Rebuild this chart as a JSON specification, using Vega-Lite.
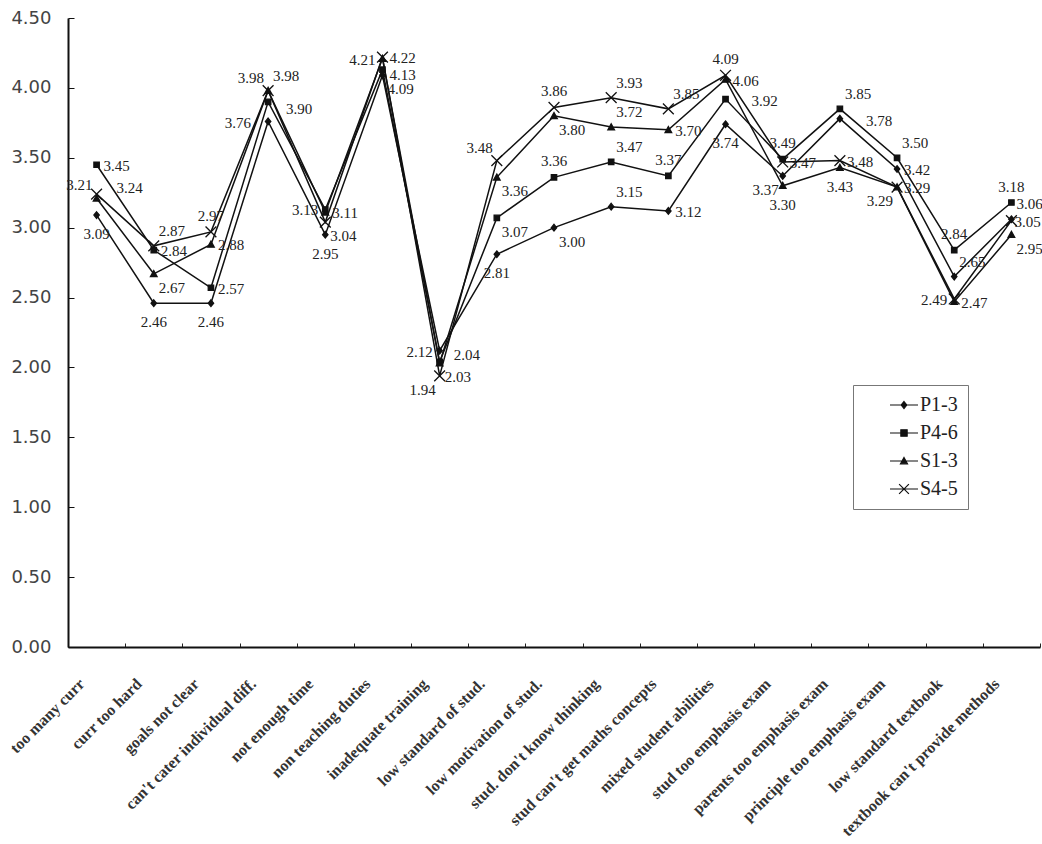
{
  "$schema": "https://vega.github.io/schema/vega-lite/v6.json",
  "width": 972,
  "height": 629,
  "autosize": {"type": "none"},
  "padding": {"left": 68, "top": 18, "right": 2, "bottom": 197},
  "background": "white",
  "config": {"view": {"stroke": null}},
  "datasets": {
    "rows": [
      {"c": "too many curr", "s": "P1-3", "v": 3.09},
      {"c": "curr too hard", "s": "P1-3", "v": 2.46},
      {"c": "goals not clear", "s": "P1-3", "v": 2.46},
      {"c": "can't cater individual diff.", "s": "P1-3", "v": 3.76},
      {"c": "not enough time", "s": "P1-3", "v": 2.95},
      {"c": "non teaching duties", "s": "P1-3", "v": 4.09},
      {"c": "inadequate training", "s": "P1-3", "v": 2.12},
      {"c": "low standard of stud.", "s": "P1-3", "v": 2.81},
      {"c": "low motivation of stud.", "s": "P1-3", "v": 3.00},
      {"c": "stud. don't know thinking", "s": "P1-3", "v": 3.15},
      {"c": "stud can't get maths concepts", "s": "P1-3", "v": 3.12},
      {"c": "mixed student abilities", "s": "P1-3", "v": 3.74},
      {"c": "stud too emphasis exam", "s": "P1-3", "v": 3.37},
      {"c": "parents too emphasis exam", "s": "P1-3", "v": 3.78},
      {"c": "principle too emphasis exam", "s": "P1-3", "v": 3.42},
      {"c": "low standard textbook", "s": "P1-3", "v": 2.65},
      {"c": "textbook can't provide methods", "s": "P1-3", "v": 3.06},
      {"c": "too many curr", "s": "P4-6", "v": 3.45},
      {"c": "curr too hard", "s": "P4-6", "v": 2.84},
      {"c": "goals not clear", "s": "P4-6", "v": 2.57},
      {"c": "can't cater individual diff.", "s": "P4-6", "v": 3.90},
      {"c": "not enough time", "s": "P4-6", "v": 3.13},
      {"c": "non teaching duties", "s": "P4-6", "v": 4.13},
      {"c": "inadequate training", "s": "P4-6", "v": 2.04},
      {"c": "low standard of stud.", "s": "P4-6", "v": 3.07},
      {"c": "low motivation of stud.", "s": "P4-6", "v": 3.36},
      {"c": "stud. don't know thinking", "s": "P4-6", "v": 3.47},
      {"c": "stud can't get maths concepts", "s": "P4-6", "v": 3.37},
      {"c": "mixed student abilities", "s": "P4-6", "v": 3.92},
      {"c": "stud too emphasis exam", "s": "P4-6", "v": 3.49},
      {"c": "parents too emphasis exam", "s": "P4-6", "v": 3.85},
      {"c": "principle too emphasis exam", "s": "P4-6", "v": 3.50},
      {"c": "low standard textbook", "s": "P4-6", "v": 2.84},
      {"c": "textbook can't provide methods", "s": "P4-6", "v": 3.18},
      {"c": "too many curr", "s": "S1-3", "v": 3.21},
      {"c": "curr too hard", "s": "S1-3", "v": 2.67},
      {"c": "goals not clear", "s": "S1-3", "v": 2.88},
      {"c": "can't cater individual diff.", "s": "S1-3", "v": 3.98},
      {"c": "not enough time", "s": "S1-3", "v": 3.11},
      {"c": "non teaching duties", "s": "S1-3", "v": 4.21},
      {"c": "inadequate training", "s": "S1-3", "v": 2.03},
      {"c": "low standard of stud.", "s": "S1-3", "v": 3.36},
      {"c": "low motivation of stud.", "s": "S1-3", "v": 3.80},
      {"c": "stud. don't know thinking", "s": "S1-3", "v": 3.72},
      {"c": "stud can't get maths concepts", "s": "S1-3", "v": 3.70},
      {"c": "mixed student abilities", "s": "S1-3", "v": 4.06},
      {"c": "stud too emphasis exam", "s": "S1-3", "v": 3.30},
      {"c": "parents too emphasis exam", "s": "S1-3", "v": 3.43},
      {"c": "principle too emphasis exam", "s": "S1-3", "v": 3.29},
      {"c": "low standard textbook", "s": "S1-3", "v": 2.47},
      {"c": "textbook can't provide methods", "s": "S1-3", "v": 2.95},
      {"c": "too many curr", "s": "S4-5", "v": 3.24},
      {"c": "curr too hard", "s": "S4-5", "v": 2.87},
      {"c": "goals not clear", "s": "S4-5", "v": 2.97},
      {"c": "can't cater individual diff.", "s": "S4-5", "v": 3.98},
      {"c": "not enough time", "s": "S4-5", "v": 3.04},
      {"c": "non teaching duties", "s": "S4-5", "v": 4.22},
      {"c": "inadequate training", "s": "S4-5", "v": 1.94},
      {"c": "low standard of stud.", "s": "S4-5", "v": 3.48},
      {"c": "low motivation of stud.", "s": "S4-5", "v": 3.86},
      {"c": "stud. don't know thinking", "s": "S4-5", "v": 3.93},
      {"c": "stud can't get maths concepts", "s": "S4-5", "v": 3.85},
      {"c": "mixed student abilities", "s": "S4-5", "v": 4.09},
      {"c": "stud too emphasis exam", "s": "S4-5", "v": 3.47},
      {"c": "parents too emphasis exam", "s": "S4-5", "v": 3.48},
      {"c": "principle too emphasis exam", "s": "S4-5", "v": 3.29},
      {"c": "low standard textbook", "s": "S4-5", "v": 2.49},
      {"c": "textbook can't provide methods", "s": "S4-5", "v": 3.05}
    ]
  },
  "data": {"name": "rows"},
  "encoding": {
    "x": {
      "field": "c",
      "type": "nominal",
      "title": null,
      "sort": ["too many curr", "curr too hard", "goals not clear", "can't cater individual diff.", "not enough time", "non teaching duties", "inadequate training", "low standard of stud.", "low motivation of stud.", "stud. don't know thinking", "stud can't get maths concepts", "mixed student abilities", "stud too emphasis exam", "parents too emphasis exam", "principle too emphasis exam", "low standard textbook", "textbook can't provide methods"],
      "scale": {"type": "band", "paddingInner": 0, "paddingOuter": 0},
      "axis": {
        "labelAngle": -45,
        "labelAlign": "right",
        "labelBaseline": "middle",
        "labelFont": "Liberation Serif",
        "labelFontSize": 16,
        "labelFontWeight": "bold",
        "labelColor": "#333",
        "labelPadding": 38,
        "labelOffset": -15,
        "labelLimit": 400,
        "tickBand": "extent",
        "tickSize": -4,
        "tickColor": "#222",
        "domainColor": "#111",
        "domainWidth": 2,
        "grid": false
      }
    },
    "y": {
      "field": "v",
      "type": "quantitative",
      "title": null,
      "scale": {"domain": [0, 4.5]},
      "axis": {
        "values": [0, 0.5, 1, 1.5, 2, 2.5, 3, 3.5, 4, 4.5],
        "format": ".2f",
        "labelFont": "DejaVu Sans",
        "labelFontSize": 18,
        "labelColor": "#444",
        "labelPadding": 23,
        "tickSize": -6,
        "tickColor": "#111",
        "domainColor": "#111",
        "domainWidth": 2,
        "grid": false
      }
    }
  },
  "resolve": {"scale": {"shape": "independent"}},
  "layer": [
    {
      "mark": {"type": "line", "color": "#111", "strokeWidth": 1.5},
      "encoding": {"detail": {"field": "s", "type": "nominal"}}
    },
    {
      "mark": {"type": "point", "filled": true, "color": "#111", "stroke": "#111", "strokeWidth": 1.3, "size": 36, "opacity": 1},
      "encoding": {
        "shape": {
          "field": "s",
          "type": "nominal",
          "scale": {
            "domain": ["P1-3", "P4-6", "S1-3", "S4-5"],
            "range": ["M0,-1.1L0.9,0L0,1.1L-0.9,0Z", "M-0.9,-0.9H0.9V0.9H-0.9Z", "M0,-1.1L1.1,0.9H-1.1Z", "M-1.8,-1.8L1.8,1.8M-1.8,1.8L1.8,-1.8"]
          },
          "legend": null
        }
      }
    },
    {
      "mark": {"type": "point", "filled": false, "fill": "#111", "color": "#111", "strokeWidth": 1.2, "size": 0, "opacity": 1},
      "encoding": {
        "shape": {
          "field": "s",
          "type": "nominal",
          "scale": {
            "domain": ["P1-3", "P4-6", "S1-3", "S4-5"],
            "range": ["M-4,0L4,0M0,-1L0.8,0L0,1L-0.8,0Z", "M-4,0L4,0M-0.9,-0.9H0.9V0.9H-0.9Z", "M-4,0L4,0M0,-1L1,0.8H-1Z", "M-4,0L4,0M-1.4,-1.4L1.4,1.4M-1.4,1.4L1.4,-1.4"]
          },
          "legend": {
            "title": null,
            "orient": "none",
            "legendX": 785,
            "legendY": 367,
            "padding": 10,
            "rowPadding": 8,
            "strokeColor": "#777",
            "fillColor": "white",
            "labelFont": "Liberation Serif",
            "labelFontSize": 20,
            "labelColor": "#222",
            "labelOffset": 6,
            "symbolSize": 49,
            "symbolOffset": 31,
            "symbolStrokeWidth": 1.2,
            "symbolOpacity": 1
          }
        }
      }
    },
    {
      "transform": [{"filter": "indexof([\"P1-3|too many curr\", \"P1-3|curr too hard\", \"P1-3|goals not clear\", \"P1-3|not enough time\", \"P1-3|low standard of stud.\", \"P1-3|mixed student abilities\", \"S1-3|stud too emphasis exam\", \"S1-3|parents too emphasis exam\"], datum.s + '|' + datum.c) >= 0"}],
      "mark": {"type": "text", "font": "Liberation Serif", "fontSize": 15, "color": "#222", "dy": 19},
      "encoding": {"text": {"field": "v", "type": "quantitative", "format": ".2f"}}
    },
    {
      "transform": [{"filter": "indexof([\"S4-5|goals not clear\", \"S4-5|low motivation of stud.\", \"P4-6|low motivation of stud.\", \"P4-6|stud can't get maths concepts\", \"S4-5|mixed student abilities\", \"P4-6|stud too emphasis exam\", \"P4-6|low standard textbook\", \"P4-6|textbook can't provide methods\"], datum.s + '|' + datum.c) >= 0"}],
      "mark": {"type": "text", "font": "Liberation Serif", "fontSize": 15, "color": "#222", "dy": -16},
      "encoding": {"text": {"field": "v", "type": "quantitative", "format": ".2f"}}
    },
    {
      "transform": [{"filter": "indexof([\"P4-6|too many curr\", \"P4-6|curr too hard\", \"P4-6|goals not clear\", \"S1-3|goals not clear\", \"S1-3|not enough time\", \"S4-5|non teaching duties\", \"P1-3|stud can't get maths concepts\", \"S1-3|stud can't get maths concepts\", \"S1-3|mixed student abilities\", \"S4-5|stud too emphasis exam\", \"S4-5|parents too emphasis exam\", \"P1-3|principle too emphasis exam\", \"S1-3|principle too emphasis exam\", \"S1-3|low standard textbook\"], datum.s + '|' + datum.c) >= 0"}],
      "mark": {"type": "text", "font": "Liberation Serif", "fontSize": 15, "color": "#222", "align": "left", "dx": 7, "dy": 1},
      "encoding": {"text": {"field": "v", "type": "quantitative", "format": ".2f"}}
    },
    {
      "transform": [{"filter": "indexof([\"P4-6|non teaching duties\"], datum.s + '|' + datum.c) >= 0"}],
      "mark": {"type": "text", "font": "Liberation Serif", "fontSize": 15, "color": "#222", "align": "left", "dx": 7, "dy": 5},
      "encoding": {"text": {"field": "v", "type": "quantitative", "format": ".2f"}}
    },
    {
      "transform": [{"filter": "indexof([\"S4-5|too many curr\"], datum.s + '|' + datum.c) >= 0"}],
      "mark": {"type": "text", "font": "Liberation Serif", "fontSize": 15, "color": "#222", "align": "left", "dx": 20, "dy": -6},
      "encoding": {"text": {"field": "v", "type": "quantitative", "format": ".2f"}}
    },
    {
      "transform": [{"filter": "indexof([\"S4-5|textbook can't provide methods\"], datum.s + '|' + datum.c) >= 0"}],
      "mark": {"type": "text", "font": "Liberation Serif", "fontSize": 15, "color": "#222", "align": "left", "dx": 3, "dy": 1},
      "encoding": {"text": {"field": "v", "type": "quantitative", "format": ".2f"}}
    },
    {
      "transform": [{"filter": "indexof([\"P4-6|mixed student abilities\", \"P1-3|parents too emphasis exam\"], datum.s + '|' + datum.c) >= 0"}],
      "mark": {"type": "text", "font": "Liberation Serif", "fontSize": 15, "color": "#222", "align": "left", "dx": 26, "dy": 2},
      "encoding": {"text": {"field": "v", "type": "quantitative", "format": ".2f"}}
    },
    {
      "transform": [{"filter": "indexof([\"P4-6|can't cater individual diff.\"], datum.s + '|' + datum.c) >= 0"}],
      "mark": {"type": "text", "font": "Liberation Serif", "fontSize": 15, "color": "#222", "align": "left", "dx": 18, "dy": 7},
      "encoding": {"text": {"field": "v", "type": "quantitative", "format": ".2f"}}
    },
    {
      "transform": [{"filter": "indexof([\"P4-6|not enough time\", \"S1-3|non teaching duties\", \"P1-3|inadequate training\", \"S4-5|low standard textbook\"], datum.s + '|' + datum.c) >= 0"}],
      "mark": {"type": "text", "font": "Liberation Serif", "fontSize": 15, "color": "#222", "align": "right", "dx": -7, "dy": 1},
      "encoding": {"text": {"field": "v", "type": "quantitative", "format": ".2f"}}
    },
    {
      "transform": [{"filter": "indexof([\"P1-3|can't cater individual diff.\"], datum.s + '|' + datum.c) >= 0"}],
      "mark": {"type": "text", "font": "Liberation Serif", "fontSize": 15, "color": "#222", "align": "right", "dx": -17, "dy": 2},
      "encoding": {"text": {"field": "v", "type": "quantitative", "format": ".2f"}}
    },
    {
      "transform": [{"filter": "indexof([\"S1-3|curr too hard\", \"S4-5|not enough time\", \"P1-3|non teaching duties\", \"S1-3|inadequate training\", \"P4-6|low standard of stud.\", \"S1-3|low standard of stud.\", \"P1-3|low motivation of stud.\", \"S1-3|low motivation of stud.\", \"S1-3|textbook can't provide methods\"], datum.s + '|' + datum.c) >= 0"}],
      "mark": {"type": "text", "font": "Liberation Serif", "fontSize": 15, "color": "#222", "align": "left", "dx": 5, "dy": 14},
      "encoding": {"text": {"field": "v", "type": "quantitative", "format": ".2f"}}
    },
    {
      "transform": [{"filter": "indexof([\"S4-5|curr too hard\", \"S1-3|can't cater individual diff.\", \"P1-3|stud. don't know thinking\", \"P4-6|stud. don't know thinking\", \"S1-3|stud. don't know thinking\", \"S4-5|stud. don't know thinking\", \"S4-5|stud can't get maths concepts\", \"P4-6|parents too emphasis exam\", \"P4-6|principle too emphasis exam\", \"P1-3|low standard textbook\", \"P1-3|textbook can't provide methods\"], datum.s + '|' + datum.c) >= 0"}],
      "mark": {"type": "text", "font": "Liberation Serif", "fontSize": 15, "color": "#222", "align": "left", "dx": 5, "dy": -15},
      "encoding": {"text": {"field": "v", "type": "quantitative", "format": ".2f"}}
    },
    {
      "transform": [{"filter": "indexof([\"P4-6|inadequate training\"], datum.s + '|' + datum.c) >= 0"}],
      "mark": {"type": "text", "font": "Liberation Serif", "fontSize": 15, "color": "#222", "align": "left", "dx": 14, "dy": -7},
      "encoding": {"text": {"field": "v", "type": "quantitative", "format": ".2f"}}
    },
    {
      "transform": [{"filter": "indexof([\"S1-3|too many curr\", \"S4-5|can't cater individual diff.\", \"S4-5|low standard of stud.\"], datum.s + '|' + datum.c) >= 0"}],
      "mark": {"type": "text", "font": "Liberation Serif", "fontSize": 15, "color": "#222", "align": "right", "dx": -4, "dy": -13},
      "encoding": {"text": {"field": "v", "type": "quantitative", "format": ".2f"}}
    },
    {
      "transform": [{"filter": "indexof([\"S4-5|inadequate training\", \"P1-3|stud too emphasis exam\", \"S4-5|principle too emphasis exam\"], datum.s + '|' + datum.c) >= 0"}],
      "mark": {"type": "text", "font": "Liberation Serif", "fontSize": 15, "color": "#222", "align": "right", "dx": -4, "dy": 14},
      "encoding": {"text": {"field": "v", "type": "quantitative", "format": ".2f"}}
    }
  ]
}
